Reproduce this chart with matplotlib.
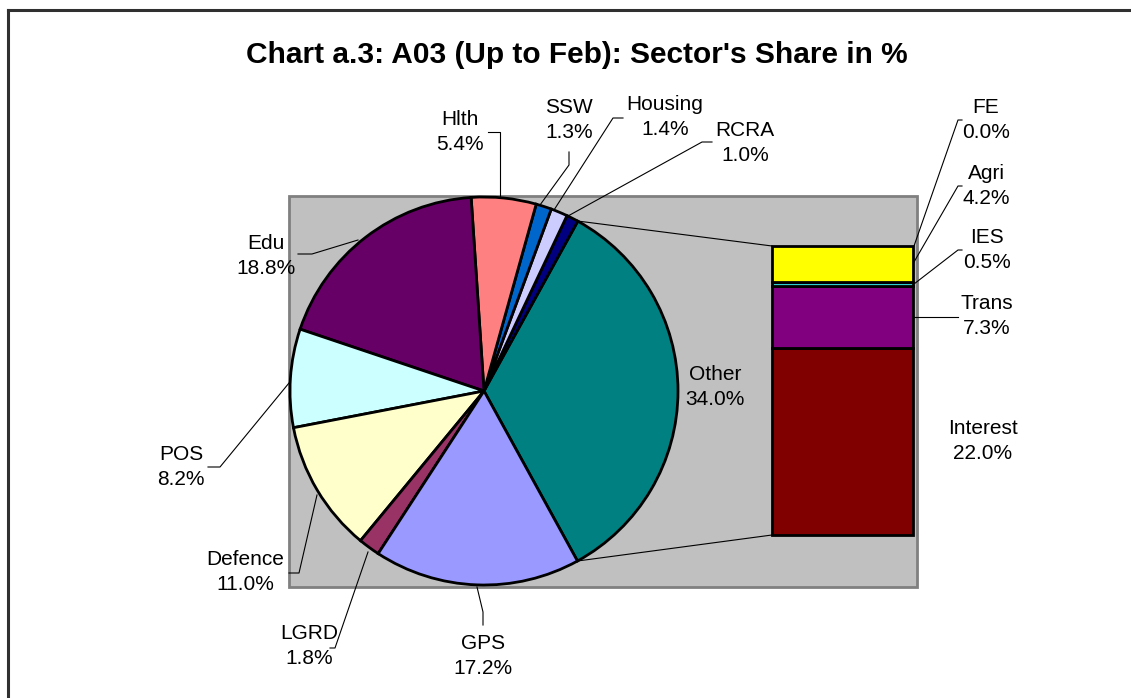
import matplotlib
matplotlib.use("Agg")
import matplotlib.pyplot as plt
from matplotlib.patches import Rectangle
import numpy as np

plt.rcParams['font.family'] = ['Liberation Sans', 'DejaVu Sans']

# Pie slices, counter-clockwise starting with the split-off "Other" slice
pie_labels = ["Other", "RCRA", "Housing", "SSW", "Hlth", "Edu", "POS",
              "Defence", "LGRD", "GPS"]
pie_values = [34.0, 1.0, 1.4, 1.3, 5.4, 18.8, 8.2, 11.0, 1.8, 17.2]
pie_colors = ["#008080", "#000080", "#CCCCFF", "#0066CC", "#FF8080",
              "#660066", "#CCFFFF", "#FFFFCC", "#993366", "#9999FF"]

# Breakdown of "Other", bottom to top
bar_labels = ["Interest", "Trans", "IES", "Agri", "FE"]
bar_values = [22.0, 7.3, 0.5, 4.2, 0.0]
bar_colors = ["#800000", "#800080", "#33CCCC", "#FFFF00", "#FFFF99"]

W, H = 1131, 698
fig = plt.figure(figsize=(W / 100, H / 100), dpi=100)
ax = fig.add_axes([0, 0, 1, 1])


def py(y):
    # pixel row (from top) -> data y
    return H - y


# gray plot area
ax.add_patch(Rectangle((289, py(587)), 628, 391, facecolor="#C0C0C0",
                       edgecolor="#808080", linewidth=2, zorder=0))

# pie
cx, cy, r = 484, py(391), 194
start = -pie_values[0] / 100 * 360 / 2
wedges, _ = ax.pie(pie_values, colors=pie_colors, startangle=start,
                   counterclock=True, center=(cx, cy), radius=r,
                   wedgeprops=dict(edgecolor="black", linewidth=2))

# stacked bar for "Other"
bx0, bx1, btop, bbot = 772, 913, 246, 535
scale = (bbot - btop) / sum(bar_values)
bottom = py(bbot)
for val, col in zip(bar_values, bar_colors):
    if val > 0:
        ax.bar((bx0 + bx1) / 2, val * scale, width=bx1 - bx0, bottom=bottom,
               color=col, edgecolor="black", linewidth=2, zorder=3)
    bottom += val * scale

# connector lines between pie and bar
a = np.deg2rad(-start)
ax.plot([cx + r * np.cos(a), bx0], [cy + r * np.sin(a), py(btop)],
        color="black", lw=0.8, zorder=2)
ax.plot([cx + r * np.cos(a), bx0], [cy - r * np.sin(a), py(bbot)],
        color="black", lw=0.8, zorder=2)

# data labels: text centre and leader line (pixel coords)
label_pos = {
    "Other": (715, 387), "RCRA": (745, 143), "Housing": (665, 117),
    "SSW": (569, 120), "Hlth": (460, 132), "Edu": (266, 256),
    "POS": (181, 467), "Defence": (245, 572), "LGRD": (309, 646),
    "GPS": (483, 656),
    "Interest": (983, 441), "Trans": (987, 316), "IES": (987, 250),
    "Agri": (986, 186), "FE": (986, 120),
}
leaders = {
    "Hlth": [(500, 197), (500, 132), (488, 132)],
    "SSW": [(540, 205), (569, 165), (569, 152)],
    "Housing": [(554, 210), (613, 118), (623, 118)],
    "RCRA": [(568, 216), (702, 142), (712, 142)],
    "FE": [(914, 246), (958, 120), (962, 120)],
    "Agri": [(914, 262), (958, 186), (962, 186)],
    "IES": [(914, 284), (958, 250), (962, 250)],
    "Trans": [(914, 317), (958, 317)],
    "Edu": [(358, 240), (312, 254), (298, 254)],
    "POS": [(289, 383), (220, 467), (208, 467)],
    "Defence": [(317, 495), (299, 573), (289, 573)],
    "LGRD": [(368, 552), (335, 648), (330, 648)],
    "GPS": [(477, 587), (483, 612), (483, 625)],
}

values = dict(zip(pie_labels, pie_values))
values.update(zip(bar_labels, bar_values))
for name, (x, y) in label_pos.items():
    ax.text(x, py(y), f"{name}\n{values[name]:.1f}%", ha="center",
            va="center", fontsize=15, linespacing=1.35, zorder=5)
for name, pts in leaders.items():
    xs, ys = zip(*pts)
    ax.plot(xs, [py(v) for v in ys], color="black", lw=0.8, zorder=4)

ax.text(577, py(55), "Chart a.3: A03 (Up to Feb): Sector's Share in %",
        ha="center", va="center", fontsize=21.5, fontweight="bold")

# outer chart frame (runs off the right and bottom edges)
ax.plot([8, W + 5], [py(10), py(10)], color="#303030", lw=2.2)
ax.plot([8, 8], [py(10), -5], color="#303030", lw=2.2)

ax.set_xlim(0, W)
ax.set_ylim(0, H)
ax.set_aspect("auto")
ax.axis("off")

fig.savefig("out.png", dpi=100)
